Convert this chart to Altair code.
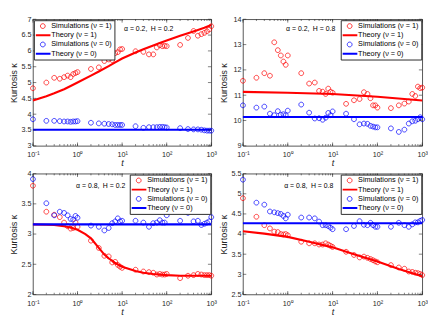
import altair as alt
import pandas as pd

FONT = "Liberation Sans"
INK = "#262626"
RED = "#ff0000"
BLUE = "#0000ff"

# time grid of the simulations (also the minor tick positions)
t = [0.1, 0.2, 0.3, 0.4, 0.5, 0.6, 0.7, 0.8, 0.9,
     1, 2, 3, 4, 5, 6, 7, 8, 9,
     10, 20, 30, 40, 50, 60, 70, 80, 90,
     100, 200, 300, 400, 500, 600, 700, 800, 900, 1000]
x_major = [0.1, 1, 10, 100, 1000]

series = ["Simulations (ν = 1)", "Theory (ν = 1)", "Simulations (ν = 0)", "Theory (ν = 0)"]

# ---- panel A: alpha = 0.2, H = 0.2
a_sim1 = [4.82, 5.00, 5.15, 5.12, 5.17, 5.22, 5.17, 5.27, 5.30,
          5.33, 5.43, 5.48, 5.68, 5.73, 5.71, 5.93, 5.96, 6.05,
          6.06, 5.99, 5.97, 5.89, 5.89, 6.11, 6.18, 6.15, 6.16,
          6.15, 6.19, 6.41, 6.63, 6.48, 6.53, 6.57, 6.62, 6.68, 6.78]
a_sim0 = [3.84, 3.79, 3.79, 3.78, 3.77, 3.77, 3.76, 3.77, 3.77,
          3.78, 3.73, 3.71, 3.70, 3.69, 3.68, 3.66, 3.66, 3.66,
          3.66, 3.62, 3.57, 3.59, 3.59, 3.59, 3.60, 3.60, 3.59,
          3.58, 3.56, 3.53, 3.52, 3.52, 3.51, 3.49, 3.48, 3.48, 3.48]
a_th1_t = [0.1, 0.2, 0.3, 0.5, 0.7, 1, 2, 3, 5, 7, 10, 20, 30, 50, 70, 100, 200, 300, 500, 700, 1000]
a_th1 = [4.43, 4.57, 4.66, 4.79, 4.89, 5.00, 5.22, 5.35, 5.52, 5.64, 5.76,
         5.95, 6.05, 6.17, 6.25, 6.33, 6.48, 6.56, 6.66, 6.73, 6.82]
a_th0_t = [0.1, 1000]
a_th0 = [3.51, 3.51]
a_yticks = [3, 3.5, 4, 4.5, 5, 5.5, 6, 6.5, 7]

# ---- panel B: alpha = 0.2, H = 0.8
b_sim1 = [11.57, 11.69, 11.87, 11.77, 13.09, 12.78, 12.57, 12.33, 12.20,
          12.57, 11.87, 11.46, 11.50, 11.17, 11.14, 11.05, 11.26, 11.14,
          11.10, 10.66, 10.80, 10.85, 11.12, 11.05, 10.88, 10.60, 10.60,
          10.51, 10.49, 10.60, 10.67, 10.75, 11.05, 10.97, 11.34, 11.28, 11.30]
b_sim0 = [10.60, 10.51, 10.55, 10.27, 10.21, 10.37, 10.23, 10.25, 10.21,
          10.39, 10.63, 10.31, 10.08, 10.09, 10.03, 10.11, 10.30, 10.21,
          10.36, 10.27, 10.05, 9.85, 9.88, 9.87, 9.79, 9.76, 9.73,
          9.73, 9.69, 9.55, 9.64, 9.88, 9.97, 9.99, 10.05, 10.13, 10.05]
b_th1_t = [0.1, 1, 10, 100, 1000]
b_th1 = [11.13, 11.10, 11.05, 10.94, 10.79]
b_th0_t = [0.1, 1000]
b_th0 = [10.14, 10.14]
b_yticks = [9, 10, 11, 12, 13, 14]

# ---- panel C: alpha = 0.8, H = 0.2
c_sim1 = [3.80, 3.37, 3.32, 3.28, 3.19, 3.13, 3.09, 3.10, 3.19,
          3.12, 2.89, 2.77, 2.64, 2.63, 2.53, 2.54, 2.49, 2.46,
          2.44, 2.41, 2.38, 2.37, 2.36, 2.33, 2.34, 2.33, 2.33,
          2.34, 2.27, 2.31, 2.32, 2.34, 2.33, 2.32, 2.32, 2.32, 2.31]
c_sim0 = [3.91, 3.51, 3.31, 3.37, 3.35, 3.31, 3.25, 3.24, 3.30,
          3.27, 3.14, 3.12, 3.06, 3.10, 3.18, 3.21, 3.26, 3.21,
          3.22, 3.22, 3.19, 3.12, 3.18, 3.19, 3.23, 3.19, 3.19,
          3.31, 3.22, 3.35, 3.21, 3.22, 3.15, 3.17, 3.19, 3.21, 3.28]
c_th1_t = [0.1, 0.2, 0.3, 0.5, 0.7, 1, 1.5, 2, 3, 4, 5, 7, 10, 20, 30, 50, 100, 200, 1000]
c_th1 = [3.16, 3.155, 3.15, 3.13, 3.11, 3.07, 3.00, 2.93, 2.77, 2.66, 2.60, 2.52,
         2.46, 2.39, 2.36, 2.34, 2.32, 2.31, 2.31]
c_th0_t = [0.1, 1000]
c_th0 = [3.16, 3.16]
c_yticks = [2, 2.5, 3, 3.5, 4]

# ---- panel D: alpha = 0.8, H = 0.8
d_sim1 = [4.89, 4.43, 4.22, 4.14, 4.06, 4.05, 4.00, 3.99, 4.00,
          3.97, 3.81, 3.77, 3.77, 3.74, 3.74, 3.77, 3.74, 3.71,
          3.68, 3.56, 3.48, 3.42, 3.44, 3.41, 3.38, 3.35, 3.32,
          3.30, 3.23, 3.17, 3.14, 3.07, 3.06, 3.04, 3.03, 3.01, 2.98]
d_sim0 = [5.35, 4.78, 4.73, 4.56, 4.54, 4.52, 4.50, 4.45, 4.39,
          4.48, 4.41, 4.41, 4.39, 4.31, 4.22, 4.22, 4.20, 4.16,
          4.12, 4.12, 4.20, 4.32, 4.23, 4.22, 4.28, 4.22, 4.18,
          4.18, 4.18, 4.28, 4.22, 4.18, 4.24, 4.29, 4.29, 4.33, 4.35]
d_th1_t = [0.1, 0.3, 1, 3, 10, 30, 100, 300, 1000]
d_th1 = [4.07, 4.01, 3.93, 3.81, 3.67, 3.50, 3.32, 3.13, 2.95]
d_th0_t = [0.1, 1000]
d_th0 = [4.27, 4.27]
d_yticks = [2.5, 3, 3.5, 4, 4.5, 5, 5.5]

CIRCLE = "M-0.5,0A0.5,0.5 0 1,0 0.5,0A0.5,0.5 0 1,0 -0.5,0"
LINE = "M-1.6,0H1.6"
XLBL = ("datum.value < 0.5 ? '10⁻¹' : datum.value < 5 ? '10⁰' : "
        "datum.value < 50 ? '10¹' : datum.value < 500 ? '10²' : '10³'")


def make_panel(sim1, sim0, th1_t, th1, th0_t, th0, ydom, yticks,
               note, note_x, note_y, orient, w, h):
    n = len(t)
    pts = pd.DataFrame({"t": t + t, "k": sim1 + sim0, "s": [series[0]] * n + [series[2]] * n})
    th = pd.DataFrame({"t": th1_t + th0_t, "k": th1 + th0,
                       "s": [series[1]] * len(th1_t) + [series[3]] * len(th0_t)})
    xsc = alt.Scale(type="log", domain=[0.1, 1000])
    ysc = alt.Scale(domain=ydom, nice=False, zero=False)
    leg = alt.Legend(title=None, orient=orient, offset=1,
                     symbolStrokeWidth=alt.ExprRef("test(/Theory/, datum.value) ? 2 : 0.8"))
    color = alt.Color("s:N", scale=alt.Scale(domain=series, range=[RED, RED, BLUE, BLUE]), legend=leg)
    shape = alt.Shape("s:N", scale=alt.Scale(domain=series, range=[CIRCLE, LINE, CIRCLE, LINE]), legend=leg)
    xaxis = alt.Axis(values=x_major, labelExpr=XLBL, title="t", titleFontStyle="italic",
                     titlePadding=0, labelPadding=5, minExtent=13, maxExtent=13,
                     labelFlush=False, labelOverlap=False)
    yaxis = alt.Axis(values=yticks, format="~g", title="Kurtosis κ", titlePadding=2,
                     minExtent=13, maxExtent=13, labelOverlap=False)

    def X(f):
        return alt.X(f, scale=xsc, axis=xaxis, title="t")

    def Y(f):
        return alt.Y(f, scale=ysc, axis=yaxis, title="Kurtosis κ")

    points = alt.Chart(pts).mark_point(filled=False, size=100, strokeWidth=0.75, opacity=1).encode(
        x=X("t:Q"), y=Y("k:Q"), color=color, shape=shape)
    lines = alt.Chart(th).mark_line(strokeWidth=2.2).encode(
        x=X("t:Q"), y=Y("k:Q"), color=color)

    xt = pd.DataFrame({"v": t})
    xm = pd.DataFrame({"v": x_major})
    yt = pd.DataFrame({"v": yticks})

    def xrule(df, a, b):
        return alt.Chart(df).mark_rule(color=INK, strokeWidth=0.6).encode(
            x=X("v:Q"), y=alt.value(a), y2=alt.value(b))

    def yrule(a, b):
        return alt.Chart(yt).mark_rule(color=INK, strokeWidth=0.6).encode(
            y=Y("v:Q"), x=alt.value(a), x2=alt.value(b))

    ticks = [xrule(xt, h, h - 1.8), xrule(xt, 0, 1.8), xrule(xm, h, h - 3.5), xrule(xm, 0, 3.5),
             yrule(0, 3.5), yrule(w, w - 3.5)]
    text = alt.Chart(pd.DataFrame({"note": [note]})).mark_text(
        align="left", baseline="middle", fontSize=7.2, font=FONT, color="black").encode(
        x=alt.value(note_x), y=alt.value(note_y), text="note:N")
    return alt.layer(points, lines, *ticks, text).properties(width=w, height=h)


pA = make_panel(a_sim1, a_sim0, a_th1_t, a_th1, a_th0_t, a_th0, [3, 7], a_yticks,
                "α = 0.2,\u2002H = 0.2", 95, 10, "top-left", 186, 132)
pB = make_panel(b_sim1, b_sim0, b_th1_t, b_th1, b_th0_t, b_th0, [9, 14], b_yticks,
                "α = 0.2,\u2002H = 0.8", 45, 10, "top-right", 187, 132)
pC = make_panel(c_sim1, c_sim0, c_th1_t, c_th1, c_th0_t, c_th0, [2, 4], c_yticks,
                "α = 0.8,\u2002H = 0.2", 45, 13, "top-right", 186, 126)
pD = make_panel(d_sim1, d_sim0, d_th1_t, d_th1, d_th0_t, d_th0, [2.5, 5.5], d_yticks,
                "α = 0.8,\u2002H = 0.8", 43, 13, "top-right", 187, 126)

chart = alt.concat(pA, pB, pC, pD, columns=2, spacing={"row": 1, "column": 1}).resolve_scale(
    color="independent", shape="independent"
).properties(
    padding={"left": 0, "top": 0, "right": 0, "bottom": 0}
).configure_view(
    stroke=INK, strokeWidth=0.8
).configure_axis(
    labelFont=FONT, titleFont=FONT, labelFontSize=7.5, titleFontSize=9.5,
    labelColor=INK, titleColor=INK, titleFontWeight="normal",
    grid=False, ticks=False, domain=False, labelPadding=2
).configure_legend(
    labelFont=FONT, labelFontSize=7.6, labelColor="black",
    strokeColor=INK, fillColor="white", padding=2, rowPadding=0.6,
    symbolSize=100, symbolOpacity=1, clipHeight=8.2,
    symbolOffset=3.5, labelOffset=5, labelLimit=200, cornerRadius=0
)

chart.save("out.html", embed_options={"renderer": "svg", "actions": False})
